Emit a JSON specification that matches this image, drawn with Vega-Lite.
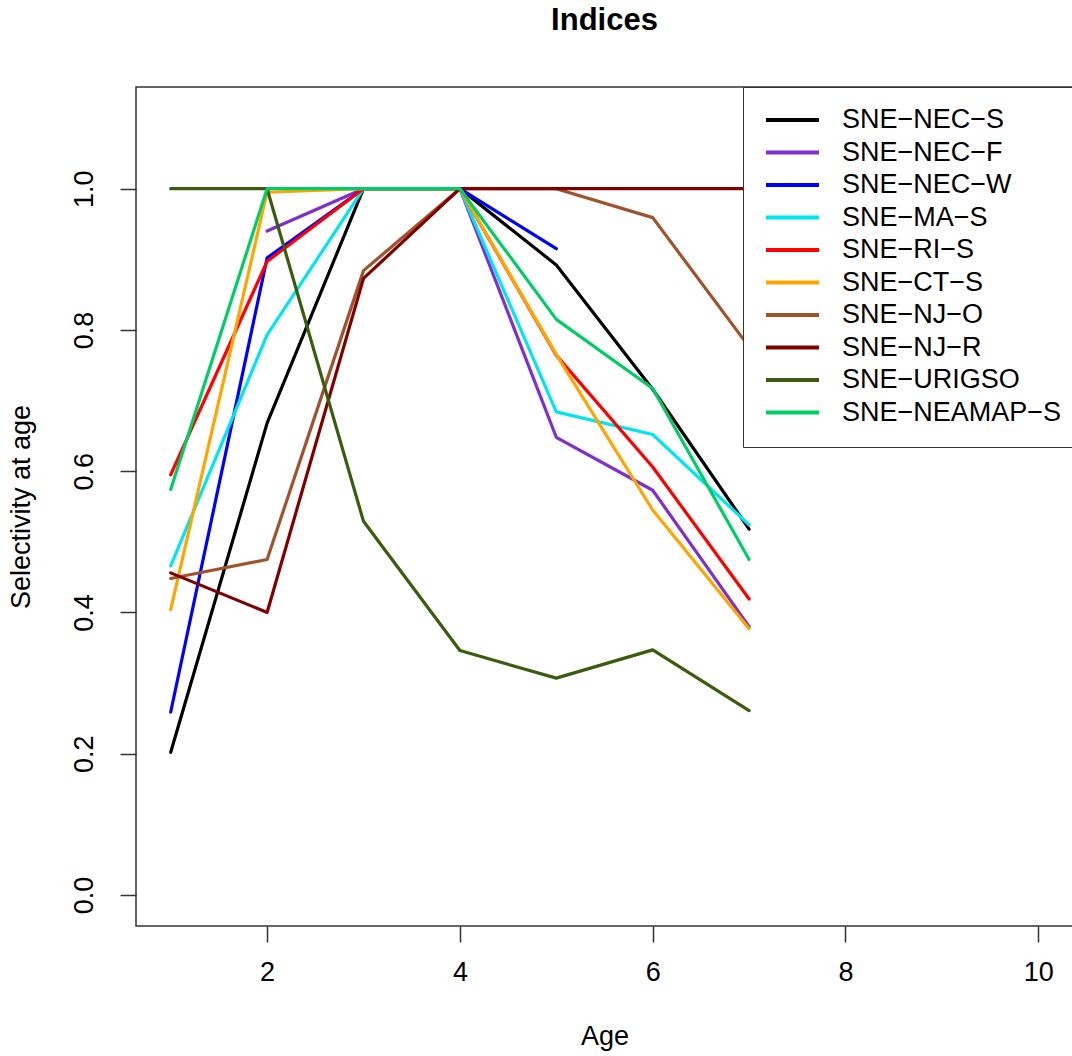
{
  "$schema": "https://vega.github.io/schema/vega-lite/v6.json",
  "width": 937,
  "height": 839,
  "autosize": {"type": "none"},
  "padding": {"left": 136, "top": 87, "right": 0, "bottom": 130},
  "background": "white",
  "config": {"font": "Liberation Sans", "view": {"stroke": "#333", "strokeWidth": 1.5}},
  "title": {"text": "Indices", "fontSize": 31, "fontWeight": "bold", "font": "Liberation Sans", "anchor": "middle", "baseline": "alphabetic", "offset": 26, "color": "black"},
  "data": {"values": [
    {"series": "SNE-NEC-S", "age": 1, "sel": 0.202},
    {"series": "SNE-NEC-S", "age": 2, "sel": 0.668},
    {"series": "SNE-NEC-S", "age": 3, "sel": 1.0},
    {"series": "SNE-NEC-S", "age": 4, "sel": 1.0},
    {"series": "SNE-NEC-S", "age": 5, "sel": 0.892},
    {"series": "SNE-NEC-S", "age": 6, "sel": 0.716},
    {"series": "SNE-NEC-S", "age": 7, "sel": 0.518},
    {"series": "SNE-NEC-F", "age": 2, "sel": 0.94},
    {"series": "SNE-NEC-F", "age": 3, "sel": 1.0},
    {"series": "SNE-NEC-F", "age": 4, "sel": 1.0},
    {"series": "SNE-NEC-F", "age": 5, "sel": 0.648},
    {"series": "SNE-NEC-F", "age": 6, "sel": 0.573},
    {"series": "SNE-NEC-F", "age": 7, "sel": 0.38},
    {"series": "SNE-NEC-W", "age": 1, "sel": 0.259},
    {"series": "SNE-NEC-W", "age": 2, "sel": 0.902},
    {"series": "SNE-NEC-W", "age": 3, "sel": 1.0},
    {"series": "SNE-NEC-W", "age": 4, "sel": 1.0},
    {"series": "SNE-NEC-W", "age": 5, "sel": 0.915},
    {"series": "SNE-MA-S", "age": 1, "sel": 0.466},
    {"series": "SNE-MA-S", "age": 2, "sel": 0.793},
    {"series": "SNE-MA-S", "age": 3, "sel": 1.0},
    {"series": "SNE-MA-S", "age": 4, "sel": 1.0},
    {"series": "SNE-MA-S", "age": 5, "sel": 0.684},
    {"series": "SNE-MA-S", "age": 6, "sel": 0.652},
    {"series": "SNE-MA-S", "age": 7, "sel": 0.524},
    {"series": "SNE-RI-S", "age": 1, "sel": 0.595},
    {"series": "SNE-RI-S", "age": 2, "sel": 0.897},
    {"series": "SNE-RI-S", "age": 3, "sel": 1.0},
    {"series": "SNE-RI-S", "age": 4, "sel": 1.0},
    {"series": "SNE-RI-S", "age": 5, "sel": 0.764},
    {"series": "SNE-RI-S", "age": 6, "sel": 0.606},
    {"series": "SNE-RI-S", "age": 7, "sel": 0.419},
    {"series": "SNE-CT-S", "age": 1, "sel": 0.404},
    {"series": "SNE-CT-S", "age": 2, "sel": 0.995},
    {"series": "SNE-CT-S", "age": 3, "sel": 1.0},
    {"series": "SNE-CT-S", "age": 4, "sel": 1.0},
    {"series": "SNE-CT-S", "age": 5, "sel": 0.765},
    {"series": "SNE-CT-S", "age": 6, "sel": 0.545},
    {"series": "SNE-CT-S", "age": 7, "sel": 0.377},
    {"series": "SNE-NJ-O", "age": 1, "sel": 0.448},
    {"series": "SNE-NJ-O", "age": 2, "sel": 0.475},
    {"series": "SNE-NJ-O", "age": 3, "sel": 0.884},
    {"series": "SNE-NJ-O", "age": 4, "sel": 1.0},
    {"series": "SNE-NJ-O", "age": 5, "sel": 1.0},
    {"series": "SNE-NJ-O", "age": 6, "sel": 0.959},
    {"series": "SNE-NJ-O", "age": 7, "sel": 0.776},
    {"series": "SNE-NJ-R", "age": 1, "sel": 0.456},
    {"series": "SNE-NJ-R", "age": 2, "sel": 0.4},
    {"series": "SNE-NJ-R", "age": 3, "sel": 0.873},
    {"series": "SNE-NJ-R", "age": 4, "sel": 1.0},
    {"series": "SNE-NJ-R", "age": 5, "sel": 1.0},
    {"series": "SNE-NJ-R", "age": 6, "sel": 1.0},
    {"series": "SNE-NJ-R", "age": 7, "sel": 1.0},
    {"series": "SNE-URIGSO", "age": 1, "sel": 1.0},
    {"series": "SNE-URIGSO", "age": 2, "sel": 1.0},
    {"series": "SNE-URIGSO", "age": 3, "sel": 0.529},
    {"series": "SNE-URIGSO", "age": 4, "sel": 0.346},
    {"series": "SNE-URIGSO", "age": 5, "sel": 0.307},
    {"series": "SNE-URIGSO", "age": 6, "sel": 0.347},
    {"series": "SNE-URIGSO", "age": 7, "sel": 0.261},
    {"series": "SNE-NEAMAP-S", "age": 1, "sel": 0.574},
    {"series": "SNE-NEAMAP-S", "age": 2, "sel": 1.0},
    {"series": "SNE-NEAMAP-S", "age": 3, "sel": 1.0},
    {"series": "SNE-NEAMAP-S", "age": 4, "sel": 1.0},
    {"series": "SNE-NEAMAP-S", "age": 5, "sel": 0.815},
    {"series": "SNE-NEAMAP-S", "age": 6, "sel": 0.717},
    {"series": "SNE-NEAMAP-S", "age": 7, "sel": 0.475}
  ]},
  "mark": {"type": "line", "strokeWidth": 3.2, "strokeCap": "round", "strokeJoin": "round", "clip": true},
  "encoding": {
    "x": {
      "field": "age", "type": "quantitative",
      "scale": {"domain": [0.64, 10.36], "nice": false, "zero": false},
      "axis": {"values": [2, 4, 6, 8, 10], "format": "d", "title": "Age", "titleFontSize": 27, "titleFontWeight": "normal", "titleColor": "black", "titlePadding": 38, "labelFontSize": 27, "labelColor": "black", "labelPadding": 17, "tickSize": 16, "tickColor": "#333", "tickWidth": 1.5, "domain": false, "grid": false, "labelFlush": false, "labelOverlap": false}
    },
    "y": {
      "field": "sel", "type": "quantitative",
      "scale": {"domain": [-0.044, 1.144], "nice": false, "zero": false},
      "axis": {"values": [0, 0.2, 0.4, 0.6, 0.8, 1.0], "format": ".1f", "title": "Selectivity at age", "titleFontSize": 27, "titleFontWeight": "normal", "titleColor": "black", "titlePadding": 35, "labelFontSize": 27, "labelColor": "black", "labelAngle": 270, "labelAlign": "center", "labelBaseline": "bottom", "labelPadding": 22, "tickSize": 16, "tickColor": "#333", "tickWidth": 1.5, "domain": false, "grid": false, "labelFlush": false, "labelOverlap": false}
    },
    "color": {
      "field": "series", "type": "nominal",
      "sort": ["SNE-NEC-S", "SNE-NEC-F", "SNE-NEC-W", "SNE-MA-S", "SNE-RI-S", "SNE-CT-S", "SNE-NJ-O", "SNE-NJ-R", "SNE-URIGSO", "SNE-NEAMAP-S"],
      "scale": {
        "domain": ["SNE-NEC-S", "SNE-NEC-F", "SNE-NEC-W", "SNE-MA-S", "SNE-RI-S", "SNE-CT-S", "SNE-NJ-O", "SNE-NJ-R", "SNE-URIGSO", "SNE-NEAMAP-S"],
        "range": ["#000000", "#7D2FCF", "#0000FF", "#00E5EE", "#FF0000", "#FFA500", "#A0522D", "#800000", "#3B5B0D", "#00CD66"]
      },
      "legend": {"orient": "none", "legendX": 607, "legendY": 0, "title": null, "symbolType": "stroke", "symbolSize": 2809, "symbolStrokeWidth": 4, "clipHeight": 24, "rowPadding": 5.5, "labelFontSize": 27, "labelColor": "black", "labelOffset": 21, "labelLimit": 400, "padding": 21, "strokeColor": "#333", "fillColor": "white", "labelExpr": "replace(datum.label, regexp('-', 'g'), '\u2212')"}
    }
  }
}
